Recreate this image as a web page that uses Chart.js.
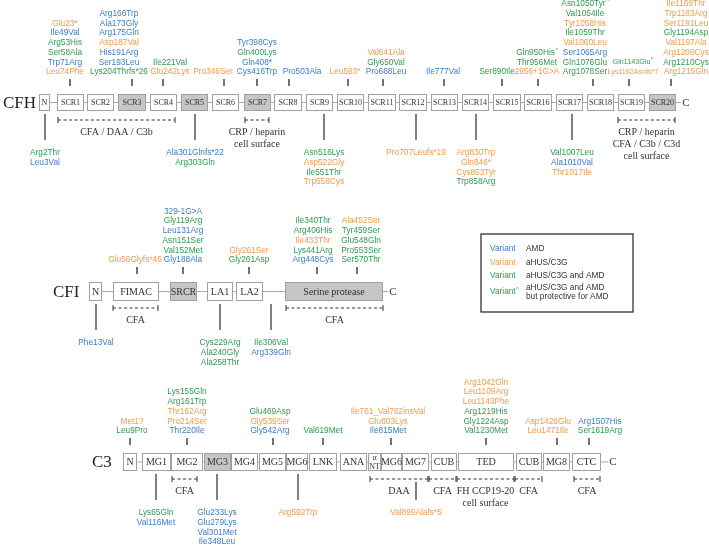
<!DOCTYPE html>
<html>
<head>
<meta charset="utf-8">
<script src="https://cdn.jsdelivr.net/npm/chart.js@4/dist/chart.umd.min.js"></script>
<style>
body { margin: 0; background: #fff; }
#wrap { width: 709px; height: 546px; }
</style>
</head>
<body>
<div id="wrap"><canvas id="diagram" width="709" height="546"></canvas></div>
<script>
// variant classes: A = AMD, H = aHUS/C3G, B = aHUS/C3G and AMD
const classColors = { A: '#3b7dc4', H: '#f29a48', B: '#2e9a50' };

// ---- CFH ----
const cfhDomains = ['N', 'SCR1', 'SCR2', 'SCR3', 'SCR4', 'SCR5', 'SCR6', 'SCR7', 'SCR8', 'SCR9', 'SCR10',
    'SCR11', 'SCR12', 'SCR13', 'SCR14', 'SCR15', 'SCR16', 'SCR17', 'SCR18', 'SCR19', 'SCR20'];
const cfhStart = [39, 57, 87, 118, 150, 181, 212, 244, 274, 306, 337, 368, 399, 431, 462, 493, 524, 556, 587, 618, 649];
const cfhEnd = [50, 84, 114, 146, 177, 208, 239, 271, 302, 333, 364, 396, 427, 458, 489, 521, 552, 583, 614, 645, 676];
const cfhShaded = ['SCR3', 'SCR5', 'SCR7', 'SCR20'];

const cfhAboveX = [70, 132, 163, 224, 257, 289, 348, 383, 444, 502, 538, 593, 629, 671];
const cfhAboveLabelX = [65, 119, 170, 213, 257, 302, 345, 386, 443, 497, 537, 585, 633, 686];
const cfhAbove = [
    [['Glu23*', 'H'], ['Ile49Val', 'A'], ['Arg53His', 'B'], ['Ser58Ala', 'B'], ['Trp71Arg', 'A'], ['Leu74Phe', 'H']],
    [['Arg166Trp', 'A'], ['Ala173Gly', 'A'], ['Arg175Gln', 'A'], ['Asp187Val', 'H'], ['His191Arg', 'A'], ['Ser193Leu', 'A'], ['Lys204Thrfs*26', 'B']],
    [['Ile221Val', 'B'], ['Glu242Lys', 'H']],
    [['Pro346Ser', 'H']],
    [['Tyr398Cys', 'A'], ['Gln400Lys', 'B'], ['Gln408*', 'A'], ['Cys416Trp', 'A']],
    [['Pro503Ala', 'A']],
    [['Leu593*', 'H']],
    [['Val641Ala', 'H'], ['Gly650Val', 'B'], ['Pro668Leu', 'A']],
    [['Ile777Val', 'A']],
    [['Ser890Ile', 'B']],
    [['Gln950His^', 'B'], ['Thr956Met', 'B'], ['2956+1G>A', 'H']],
    [['Asn1050Tyr^', 'B'], ['Val1054Ile', 'B'], ['Tyr1058His', 'H'], ['Ile1059Thr', 'B'], ['Val1060Leu', 'H'], ['Ser1065Arg', 'A'], ['Gln1076Glu', 'B'], ['Arg1078Ser', 'B']],
    [['Gln1143Glu^', 'B'], ['Lys1162Asnfs*7', 'H']],
    [['Ile1169Thr', 'H'], ['Trp1183Arg', 'H'], ['Ser1191Leu', 'H'], ['Gly1194Asp', 'B'], ['Val1197Ala', 'H'], ['Arg1206Cys', 'H'], ['Arg1210Cys', 'B'], ['Arg1215Gln', 'H']]
];
const cfhBelowX = [45, 195, 324, 416, 476, 572];
const cfhBelow = [
    [['Arg2Thr', 'B'], ['Leu3Val', 'A']],
    [['Ala301Glnfs*22', 'A'], ['Arg303Gln', 'B']],
    [['Asn516Lys', 'B'], ['Asp522Gly', 'H'], ['Ile551Thr', 'B'], ['Trp558Cys', 'H']],
    [['Pro707Leufs*19', 'H']],
    [['Arg830Trp', 'H'], ['Gln846*', 'H'], ['Cys853Tyr', 'H'], ['Trp858Arg', 'B']],
    [['Val1007Leu', 'B'], ['Ala1010Val', 'A'], ['Thr1017Ile', 'H']]
];
const cfhBracketFrom = [58, 245, 618];
const cfhBracketTo = [175, 269, 675];
const cfhBracketText = [['CFA / DAA / C3b'], ['CRP / heparin', 'cell surface'], ['CRP / heparin', 'CFA / C3b / C3d', 'cell surface']];

// ---- CFI ----
const cfiDomains = ['N', 'FIMAC', 'SRCR', 'LA1', 'LA2', 'Serine protease'];
const cfiStart = [89, 113, 170, 207, 236, 285];
const cfiEnd = [102, 159, 197, 233, 263, 383];
const cfiShaded = ['SRCR', 'Serine protease'];

const cfiAboveX = [137, 183, 249, 317, 357];
const cfiAboveLabelX = [135, 183, 249, 313, 361];
const cfiAbove = [
    [['Glu56Glyfs*46', 'H']],
    [['329-1G>A', 'A'], ['Gly119Arg', 'B'], ['Leu131Arg', 'A'], ['Asn151Ser', 'B'], ['Val152Met', 'B'], ['Gly188Ala', 'A']],
    [['Gly261Ser', 'H'], ['Gly261Asp', 'B']],
    [['Ile340Thr', 'B'], ['Arg406His', 'B'], ['Ile433Thr', 'H'], ['Lys441Arg', 'B'], ['Arg448Cys', 'A']],
    [['Ala452Ser', 'H'], ['Tyr459Ser', 'B'], ['Glu548Gln', 'B'], ['Pro553Ser', 'B'], ['Ser570Thr', 'B']]
];
const cfiBelowX = [96, 220, 271];
const cfiBelow = [
    [['Phe13Val', 'A']],
    [['Cys229Arg', 'B'], ['Ala240Gly', 'B'], ['Ala258Thr', 'B']],
    [['Ile306Val', 'B'], ['Arg339Gln', 'A']]
];
const cfiBracketFrom = [113, 286];
const cfiBracketTo = [158, 383];
const cfiBracketText = [['CFA'], ['CFA']];

// ---- C3 ----
const c3Domains = ['N', 'MG1', 'MG2', 'MG3', 'MG4', 'MG5', 'MG6', 'LNK', 'ANA', 'αNT', 'MG6', 'MG7', 'CUB', 'TED', 'CUB', 'MG8', 'CTC'];
const c3Start = [123, 142, 171, 204, 231, 259, 286, 309, 340, 368, 381, 402, 431, 458, 516, 543, 572];
const c3End = [137, 171, 203, 231, 258, 286, 308, 337, 367, 381, 402, 429, 457, 514, 542, 570, 601];
const c3Shaded = ['MG3'];

const c3AboveX = [130, 187, 273, 323, 391, 486, 557, 589];
const c3AboveLabelX = [132, 187, 270, 323, 388, 486, 548, 600];
const c3Above = [
    [['Met1?', 'H'], ['Leu9Pro', 'B']],
    [['Lys155Gln', 'B'], ['Arg161Trp', 'B'], ['Thr162Arg', 'H'], ['Pro214Ser', 'H'], ['Thr220Ile', 'A']],
    [['Glu469Asp', 'B'], ['Gly539Ser', 'H'], ['Gly542Arg', 'A']],
    [['Val619Met', 'B']],
    [['Ile761_Val762insVal', 'H'], ['Glu803Lys', 'H'], ['Ile815Met', 'A']],
    [['Arg1042Gln', 'H'], ['Leu1109Arg', 'H'], ['Leu1143Phe', 'H'], ['Arg1219His', 'B'], ['Gly1224Asp', 'B'], ['Val1230Met', 'B']],
    [['Asp1426Glu', 'H'], ['Leu1471Ile', 'H']],
    [['Arg1507His', 'A'], ['Ser1619Arg', 'B']]
];
const c3BelowX = [156, 217, 298, 416];
const c3Below = [
    [['Lys65Gln', 'B'], ['Val116Met', 'A']],
    [['Glu233Lys', 'A'], ['Glu279Lys', 'A'], ['Val301Met', 'A'], ['Ile348Leu', 'A']],
    [['Arg592Trp', 'H']],
    [['Val899Alafs*5', 'H']]
];
const c3BracketFrom = [172, 370, 429, 457, 515, 574];
const c3BracketTo = [197, 428, 456, 514, 542, 600];
const c3BracketText = [['CFA'], ['DAA'], ['CFA'], ['FH CCP19-20', 'cell surface'], ['CFA'], ['CFA']];

// legend
const legendClasses = ['A', 'H', 'B', 'B^'];
const legendText = [['AMD'], ['aHUS/C3G'], ['aHUS/C3G and AMD'], ['aHUS/C3G and AMD', 'but protective for AMD']];

// ---- layout ----
// crowded label groups use a smaller font (group index -> px)
const cfhSmallFont = { 12: 7.2 };
const rows = [
    { name: 'CFH', nameX: 3, top: 94, bottom: 111, cX: 686, boxFont: 8, domains: cfhDomains, start: cfhStart, end: cfhEnd, shaded: cfhShaded,
      aboveX: cfhAboveX, aboveLabelX: cfhAboveLabelX, above: cfhAbove, belowX: cfhBelowX, below: cfhBelow, small: cfhSmallFont,
      brFrom: cfhBracketFrom, brTo: cfhBracketTo, brText: cfhBracketText, brGap: 9 },
    { name: 'CFI', nameX: 53, top: 282, bottom: 301, cX: 393, boxFont: 10, domains: cfiDomains, start: cfiStart, end: cfiEnd, shaded: cfiShaded,
      aboveX: cfiAboveX, aboveLabelX: cfiAboveLabelX, above: cfiAbove, belowX: cfiBelowX, below: cfiBelow, small: {},
      brFrom: cfiBracketFrom, brTo: cfiBracketTo, brText: cfiBracketText, brGap: 7 },
    { name: 'C3', nameX: 92, top: 453, bottom: 471, cX: 613, boxFont: 10, domains: c3Domains, start: c3Start, end: c3End, shaded: c3Shaded,
      aboveX: c3AboveX, aboveLabelX: c3AboveLabelX, above: c3Above, belowX: c3BelowX, below: c3Below, small: {},
      brFrom: c3BracketFrom, brTo: c3BracketTo, brText: c3BracketText, brGap: 8 }
];

const SANS = '"Liberation Sans", Arial, sans-serif';
const SERIF = '"Liberation Serif", "Times New Roman", serif';
const LINE = 9.7;
const LABEL_SIZE = 8.3;

function variantLabel(ctx, px, py, name, cls, x, y, size) {
    size = size || LABEL_SIZE;
    ctx.font = size + 'px ' + SANS;
    ctx.fillStyle = classColors[cls];
    ctx.textBaseline = 'middle';
    const sup = name.endsWith('^');
    const base = sup ? name.slice(0, -1) : name;
    const w = ctx.measureText(base).width;
    const extra = sup ? 3 : 0;
    ctx.textAlign = 'left';
    const left = px(x) - (w + extra) / 2;
    ctx.fillText(base, left, py(y));
    if (sup) {
        ctx.font = '6px ' + SANS;
        ctx.fillText('^', left + w + 0.3, py(y) - 2.5);
    }
}

const diagramPlugin = {
    id: 'diagram',
    afterDatasetsDraw(chart) {
        const ctx = chart.ctx;
        const px = v => chart.scales.x.getPixelForValue(v);
        const py = v => chart.scales.y.getPixelForValue(v);
        ctx.save();

        rows.forEach(row => {
            const mid = (row.top + row.bottom) / 2;
            // protein name
            ctx.font = '17px ' + SERIF;
            ctx.fillStyle = '#222';
            ctx.textAlign = 'left';
            ctx.textBaseline = 'middle';
            ctx.fillText(row.name, px(row.nameX), py(mid) + 1);

            // backbone
            ctx.strokeStyle = '#a8a8a8';
            ctx.lineWidth = 1;
            ctx.beginPath();
            ctx.moveTo(px(row.start[0]), py(mid));
            ctx.lineTo(px(row.cX - 5), py(mid));
            ctx.stroke();
            ctx.font = '11px ' + SERIF;
            ctx.fillStyle = '#333';
            ctx.textAlign = 'center';
            ctx.fillText('C', px(row.cX), py(mid) + 0.5);

            // domain boxes
            row.domains.forEach((d, i) => {
                const x0 = px(row.start[i]), x1 = px(row.end[i]);
                const y0 = py(row.top), y1 = py(row.bottom);
                ctx.fillStyle = row.shaded.includes(d) ? '#c6c6c6' : '#ffffff';
                ctx.fillRect(x0, y0, x1 - x0, y1 - y0);
                ctx.strokeStyle = '#a0a0a0';
                ctx.lineWidth = 1;
                ctx.strokeRect(x0 + 0.5, y0 + 0.5, x1 - x0 - 1, y1 - y0 - 1);
                ctx.fillStyle = '#333';
                ctx.textAlign = 'center';
                ctx.textBaseline = 'middle';
                const cx = (x0 + x1) / 2;
                if (d === 'αNT') {
                    ctx.font = '8px ' + SERIF;
                    ctx.fillText('α', cx, py(mid) - 4);
                    ctx.fillText('NT', cx, py(mid) + 4.5);
                } else {
                    ctx.font = row.boxFont + 'px ' + SERIF;
                    ctx.fillText(d, cx, py(mid) + 0.5);
                }
            });

            // brackets
            const brY = row.bottom + row.brGap;
            row.brFrom.forEach((f, i) => {
                const t = row.brTo[i];
                ctx.strokeStyle = '#333';
                ctx.lineWidth = 1;
                ctx.setLineDash([3, 2.5]);
                ctx.beginPath();
                ctx.moveTo(px(f), py(brY));
                ctx.lineTo(px(t), py(brY));
                ctx.stroke();
                ctx.setLineDash([]);
                ctx.beginPath();
                ctx.moveTo(px(f), py(brY) - 3);
                ctx.lineTo(px(f), py(brY) + 3);
                ctx.moveTo(px(t), py(brY) - 3);
                ctx.lineTo(px(t), py(brY) + 3);
                ctx.stroke();
                ctx.font = '10px ' + SERIF;
                ctx.fillStyle = '#333';
                ctx.textAlign = 'center';
                ctx.textBaseline = 'middle';
                row.brText[i].forEach((s, k) => {
                    ctx.fillText(s, px((f + t) / 2), py(brY + 12 + k * 12));
                });
            });

            // variants above
            row.aboveX.forEach((x, i) => {
                ctx.strokeStyle = '#444';
                ctx.lineWidth = 1.5;
                ctx.beginPath();
                ctx.moveTo(px(x), py(row.top - 15));
                ctx.lineTo(px(x), py(row.top - 8));
                ctx.stroke();
                const list = row.above[i];
                list.forEach((v, k) => {
                    const y = row.top - 22 - (list.length - 1 - k) * LINE;
                    variantLabel(ctx, px, py, v[0], v[1], row.aboveLabelX[i], y, row.small[i]);
                });
            });

            // variants below
            row.belowX.forEach((x, i) => {
                let y0 = row.bottom + 3;
                row.brFrom.forEach((f, j) => {
                    if (x > f && x < row.brTo[j]) y0 = brY + 3;
                });
                ctx.strokeStyle = '#555';
                ctx.lineWidth = 1.5;
                ctx.beginPath();
                ctx.moveTo(px(x), py(y0));
                ctx.lineTo(px(x), py(row.bottom + 29));
                ctx.stroke();
                row.below[i].forEach((v, k) => {
                    variantLabel(ctx, px, py, v[0], v[1], x, row.bottom + 42 + k * LINE);
                });
            });
        });

        // legend
        ctx.strokeStyle = '#333';
        ctx.lineWidth = 1.3;
        ctx.strokeRect(px(481), py(234), px(633) - px(481), py(312) - py(234));
        const legY = [249, 263, 276, 292];
        legendClasses.forEach((c, i) => {
            const cls = c[0];
            ctx.font = LABEL_SIZE + 'px ' + SANS;
            ctx.fillStyle = classColors[cls];
            ctx.textAlign = 'left';
            ctx.textBaseline = 'middle';
            ctx.fillText('Variant', px(490), py(legY[i]));
            if (c.endsWith('^')) {
                const w = ctx.measureText('Variant').width;
                ctx.font = '6px ' + SANS;
                ctx.fillText('^', px(490) + w + 0.3, py(legY[i]) - 2.5);
            }
            ctx.font = LABEL_SIZE + 'px ' + SANS;
            ctx.fillStyle = '#333';
            const lines = legendText[i];
            lines.forEach((s, k) => {
                const yy = legY[i] + (k - (lines.length - 1) / 2) * 9.5;
                ctx.fillText(s, px(526), py(yy));
            });
        });

        ctx.restore();
    }
};

new Chart(document.getElementById('diagram'), {
    type: 'scatter',
    data: { datasets: [] },
    options: {
        responsive: false,
        animation: false,
        layout: { padding: 0 },
        plugins: { legend: { display: false }, tooltip: { enabled: false } },
        scales: {
            x: { type: 'linear', min: 0, max: 709, display: false },
            y: { type: 'linear', min: 0, max: 546, reverse: true, display: false }
        }
    },
    plugins: [diagramPlugin]
});
</script>
</body>
</html>
